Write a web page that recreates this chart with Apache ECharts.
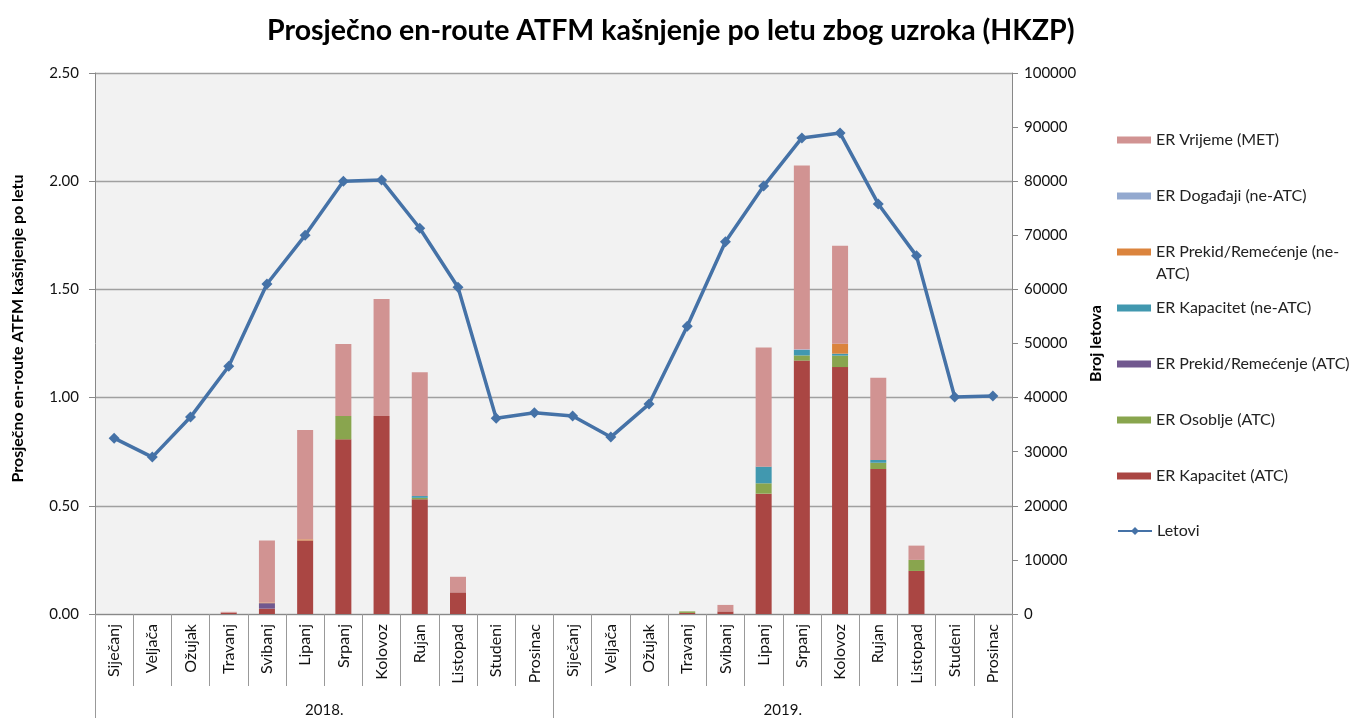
<!DOCTYPE html>
<html><head><meta charset="utf-8">
<script src="https://cdn.jsdelivr.net/npm/echarts@6/dist/echarts.min.js"></script>
<style>html,body{margin:0;padding:0;background:#fff}#c{width:1350px;height:718px}</style>
</head><body><div id="c"></div>
<script>
const months = ['Siječanj','Veljača','Ožujak','Travanj','Svibanj','Lipanj','Srpanj','Kolovoz','Rujan','Listopad','Studeni','Prosinac'];
const categories = months.concat(months);
const years = ['2018.', '2019.'];
const kapacitetATC   = [0,0,0,0.006,0.025,0.340,0.807,0.915,0.530,0.100,0,0, 0,0,0,0.005,0.012,0.556,1.171,1.141,0.670,0.199,0,0];
const osobljeATC     = [0,0,0,0,0,0,0.108,0,0.007,0,0,0, 0,0,0,0.007,0,0.048,0.024,0.053,0.029,0.051,0,0];
const prekidATC      = [0,0,0,0,0.025,0,0,0,0,0,0,0, 0,0,0,0,0,0,0,0,0,0,0,0];
const kapacitetNeATC = [0,0,0,0,0,0,0,0,0.008,0,0,0, 0,0,0,0,0,0.077,0.025,0.009,0.013,0,0,0];
const prekidNeATC    = [0,0,0,0,0.003,0.005,0,0,0,0,0,0, 0,0,0,0,0,0,0,0.046,0,0,0,0];
const dogadjaji      = [0,0,0,0,0,0,0,0,0,0,0,0, 0,0,0,0,0,0,0.003,0,0,0,0,0];
const vrijeme        = [0,0,0,0.004,0.287,0.505,0.333,0.541,0.572,0.072,0,0, 0,0,0,0,0.030,0.550,0.849,0.453,0.380,0.066,0,0];
const letovi = [32500,29000,36400,45800,61000,70000,80000,80200,71300,60400,36200,37200, 36600,32700,38800,53200,68800,79100,88000,88900,75800,66200,40100,40300];

const FONT = 'Lato';
const chart = echarts.init(document.getElementById('c'), null, {renderer:'canvas'});
const barSeries = [
  ['ER Kapacitet (ATC)', kapacitetATC, '#AA4643'],
  ['ER Osoblje (ATC)', osobljeATC, '#89A54E'],
  ['ER Prekid/Remećenje (ATC)', prekidATC, '#71588F'],
  ['ER Kapacitet (ne-ATC)', kapacitetNeATC, '#4198AF'],
  ['ER Prekid/Remećenje (ne-ATC)', prekidNeATC, '#DB843D'],
  ['ER Događaji (ne-ATC)', dogadjaji, '#93A9CF'],
  ['ER Vrijeme (MET)', vrijeme, '#D19392']
].map(([name, data, color]) => ({
  name, type:'bar', stack:'d', data, barWidth:16, xAxisIndex:0, yAxisIndex:0,
  itemStyle:{color}, emphasis:{disabled:true}
}));

const WRAP = 'ER Prekid/Remećenje (ne-ATC)';
const legendItems = [
  ['ER Vrijeme (MET)', 140],
  ['ER Događaji (ne-ATC)', 196],
  [WRAP, 252],
  ['ER Kapacitet (ne-ATC)', 308],
  ['ER Prekid/Remećenje (ATC)', 364],
  ['ER Osoblje (ATC)', 420],
  ['ER Kapacitet (ATC)', 476],
  ['Letovi', 531]
];
const legends = legendItems.map(([name, y]) => {
  const isWrap = name === WRAP, isLine = name === 'Letovi';
  return {
    left: 1117, top: y - 11, padding: 0,
    orient:'vertical', data:[name], itemWidth:34,
    itemHeight: isWrap ? 29 : (isLine ? 10 : 7),
    itemGap: 0, selectedMode:false,
    icon: isLine ? undefined : (isWrap ? 'path://M0,0H34V7H0Z M0,29H0.01V29.01H0Z' : 'rect'),
    formatter: n => n === WRAP ? 'ER Prekid/Remećenje (ne-\nATC)' : n,
    textStyle:{fontFamily:FONT, fontSize:16, color:'#222', lineHeight:22}
  };
});

chart.setOption({
  animation:false,
  backgroundColor:'#fff',
  title:{text:'Prosječno en-route ATFM kašnjenje po letu zbog uzroka (HKZP)', left:262, top:11,
    textStyle:{fontFamily:FONT, fontSize:28.5, fontWeight:'bold', color:'#000'}},
  legend: legends,
  grid:{left:95, right:338, top:73, bottom:104, show:true, backgroundColor:'#F2F2F2', borderWidth:0},
  xAxis:[
    {type:'category', data:categories, position:'bottom', boundaryGap:true,
      axisLine:{show:true, lineStyle:{color:'#888', width:1}},
      axisTick:{show:true, interval:0, length:72, lineStyle:{color:'#999'}},
      axisLabel:{interval:0, rotate:90, margin:10, fontFamily:FONT, fontSize:16, color:'#111'}},
    {type:'category', data:years, position:'bottom', boundaryGap:true,
      axisLine:{show:false},
      axisTick:{show:true, interval:0, length:104, lineStyle:{color:'#999'}},
      axisLabel:{interval:0, margin:89, fontFamily:FONT, fontSize:15, color:'#111'}}
  ],
  yAxis:[
    {type:'value', min:0, max:2.5, interval:0.5, position:'left',
      name:'Prosječno en-route ATFM kašnjenje po letu', nameLocation:'middle', nameGap:69, nameRotate:90,
      nameTextStyle:{fontFamily:FONT, fontSize:16, fontWeight:'bold', color:'#000', padding:[0,0,0,30]},
      axisLine:{show:true, lineStyle:{color:'#888'}},
      axisTick:{show:true, length:6, lineStyle:{color:'#888'}},
      axisLabel:{formatter:v => v.toFixed(2), margin:16, fontFamily:FONT, fontSize:15, color:'#111'},
      splitLine:{show:true, lineStyle:{color:'#A0A0A0', width:1.3}}},
    {type:'value', min:0, max:100000, interval:10000, position:'right',
      name:'Broj letova', nameLocation:'middle', nameGap:76, nameRotate:90,
      nameTextStyle:{fontFamily:FONT, fontSize:16, fontWeight:'bold', color:'#000'},
      axisLine:{show:true, lineStyle:{color:'#888'}},
      axisTick:{show:true, length:6, lineStyle:{color:'#888'}},
      axisLabel:{margin:12, formatter:v => String(v), fontFamily:FONT, fontSize:15, color:'#111'},
      splitLine:{show:false}}
  ],
  series: barSeries.concat([{
    name:'Letovi', type:'line', xAxisIndex:0, yAxisIndex:1, data:letovi,
    symbol:'diamond', symbolSize:11, lineStyle:{color:'#4572A7', width:3.5},
    itemStyle:{color:'#4572A7'}, z:5, emphasis:{disabled:true}
  }])
});
</script></body></html>
